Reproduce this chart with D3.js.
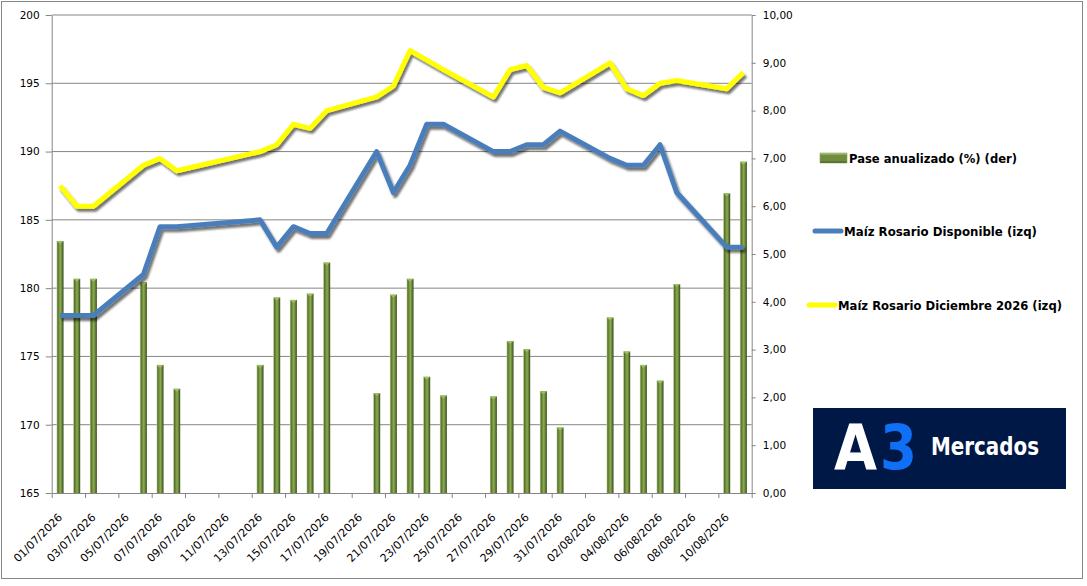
<!DOCTYPE html>
<html lang="es">
<head>
<meta charset="UTF-8">
<title>Maíz Rosario - Pase anualizado</title>
<script src="https://d3js.org/d3.v7.min.js"></script>
<style>
  body { margin: 0; background: #fff; }
  text { font-family: "DejaVu Sans", sans-serif; fill: #000; }
</style>
</head>
<body>
<svg id="chart" width="1087" height="586"></svg>
<script>
// ruedas con dato (sin 09 y 10/07)
const fechas = [
  "01/07/2026","02/07/2026","03/07/2026","06/07/2026","07/07/2026","08/07/2026",
  "13/07/2026","14/07/2026","15/07/2026","16/07/2026","17/07/2026",
  "20/07/2026","21/07/2026","22/07/2026","23/07/2026","24/07/2026",
  "27/07/2026","28/07/2026","29/07/2026","30/07/2026","31/07/2026",
  "03/08/2026","04/08/2026","05/08/2026","06/08/2026","07/08/2026",
  "10/08/2026","11/08/2026"
];
const disponible = [
  178, 178, 178, 181, 184.5, 184.5,
  185, 183, 184.5, 184, 184,
  190, 187, 189, 192, 192,
  190, 190, 190.5, 190.5, 191.5,
  189.5, 189, 189, 190.5, 187,
  183, 183
];
const diciembre = [
  187.5, 186, 186, 189, 189.5, 188.6,
  190, 190.5, 192, 191.7, 193,
  194, 194.8, 197.4, 196.7, 196,
  194, 196, 196.3, 194.7, 194.3,
  196.5, 194.6, 194.1, 195, 195.2,
  194.6, 195.8
];
const pase = [
  5.27, 4.48, 4.48, 4.41, 2.68, 2.18,
  2.68, 4.09, 4.04, 4.17, 4.82,
  2.09, 4.15, 4.48, 2.43, 2.04,
  2.02, 3.18, 3.01, 2.13, 1.37,
  3.67, 2.96, 2.68, 2.35, 4.37,
  6.27, 6.93
];
const ticksIzq = [165, 170, 175, 180, 185, 190, 195, 200];
const ticksDer = [0, 1, 2, 3, 4, 5, 6, 7, 8, 9, 10];
const series = ["Pase anualizado (%) (der)", "Maíz Rosario Disponible (izq)", "Maíz Rosario Diciembre 2026 (izq)"];

const svg = d3.select("#chart");
const mLeft = 51.7, mRight = 751.7, mTop = 15, mBottom = 493;

const parse = d3.timeParse("%d/%m/%Y");
const fmt = d3.timeFormat("%d/%m/%Y");
const primero = parse(fechas[0]), ultimo = parse(fechas[fechas.length - 1]);
const dias = d3.timeDay.range(primero, d3.timeDay.offset(ultimo, 1)).map(fmt);

const x = d3.scaleBand().domain(dias).range([mLeft, mRight]);
const xi = d3.scaleLinear().domain([0, dias.length]).range([mLeft, mRight]);
const yL = d3.scaleLinear().domain([165, 200]).range([mBottom, mTop]);
const yR = d3.scaleLinear().domain([0, 10]).range([mBottom, mTop]);
const es = d3.formatLocale({decimal: ",", thousands: ".", grouping: [3], currency: ["$", ""]});
const grey = "#868686";

const defs = svg.append("defs");
const gBar = defs.append("linearGradient").attr("id", "barra").attr("x1", 0).attr("x2", 1).attr("y1", 0).attr("y2", 0);
[["0%", "#c9d9a6"], ["18%", "#56722b"], ["55%", "#8dac54"], ["82%", "#5b772f"], ["100%", "#33481a"]]
  .forEach(s => gBar.append("stop").attr("offset", s[0]).attr("stop-color", s[1]));
const gLeg = defs.append("linearGradient").attr("id", "barraLeg").attr("x1", 0).attr("x2", 0).attr("y1", 0).attr("y2", 1);
[["0%", "#b9cf8c"], ["25%", "#6f8d3c"], ["75%", "#6f8d3c"], ["100%", "#3d5420"]]
  .forEach(s => gLeg.append("stop").attr("offset", s[0]).attr("stop-color", s[1]));
defs.append("filter").attr("id", "sombra").attr("x", "-5%").attr("y", "-20%").attr("width", "110%").attr("height", "140%")
  .append("feDropShadow").attr("dx", 2).attr("dy", 3).attr("stdDeviation", 1.3)
  .attr("flood-color", "#000").attr("flood-opacity", 0.55);

// borde del área del gráfico
svg.append("rect").attr("x", 1.5).attr("y", 1.5).attr("width", 1081).attr("height", 577)
  .attr("fill", "#fff").attr("stroke", grey);

// grilla horizontal
svg.append("g").selectAll("line").data(ticksIzq.slice(1)).join("line")
  .attr("x1", mLeft).attr("x2", mRight).attr("y1", d => yL(d)).attr("y2", d => yL(d))
  .attr("stroke", grey).attr("stroke-width", 1);

// eje izquierdo
const axL = svg.append("g").attr("transform", `translate(${mLeft},0)`)
  .call(d3.axisLeft(yL).tickValues(ticksIzq).tickSize(6).tickPadding(6).tickSizeOuter(0));
axL.select(".domain").attr("stroke", grey);
axL.selectAll(".tick line").attr("stroke", grey);
axL.selectAll("text").attr("font-size", 10.5).attr("font-family", "DejaVu Sans");

// eje derecho
const axR = svg.append("g").attr("transform", `translate(${mRight},0)`)
  .call(d3.axisRight(yR).tickValues(ticksDer).tickSize(4).tickPadding(7).tickSizeOuter(0).tickFormat(es.format(".2f")));
axR.select(".domain").attr("stroke", grey);
axR.selectAll(".tick line").attr("stroke", grey);
axR.selectAll("text").attr("font-size", 10.5).attr("font-family", "DejaVu Sans");

// eje x: marcas cada 2 días en los bordes, etiquetas centradas
const axXt = svg.append("g").attr("transform", `translate(0,${mBottom})`)
  .call(d3.axisBottom(xi).tickValues(d3.range(0, dias.length + 1, 2)).tickSize(5).tickFormat("").tickSizeOuter(0));
axXt.select(".domain").attr("stroke", grey);
axXt.selectAll(".tick line").attr("stroke", grey);

const axX = svg.append("g").attr("transform", `translate(0,${mBottom})`)
  .call(d3.axisBottom(x).tickValues(dias.filter((d, i) => i % 2 === 0)).tickSize(0));
axX.select(".domain").remove();
axX.selectAll("text")
  .attr("font-size", 11).attr("font-family", "DejaVu Sans")
  .attr("x", 0).attr("y", 0).attr("dy", 0)
  .attr("text-anchor", "end")
  .attr("transform", "translate(3,25) rotate(-45)");

// barras
const bw = x.bandwidth() * 0.42;
svg.append("g").selectAll("rect").data(fechas).join("rect")
  .attr("x", d => x(d) + x.bandwidth() / 2 - bw / 2)
  .attr("y", (d, i) => yR(pase[i]))
  .attr("width", bw)
  .attr("height", (d, i) => mBottom - yR(pase[i]))
  .attr("fill", "url(#barra)");
svg.append("g").selectAll("path").data(fechas).join("path")
  .attr("d", (d, i) => {
    const cx = x(d) + x.bandwidth() / 2, yt = yR(pase[i]);
    return `M${cx - bw / 2},${yt} L${cx + bw / 2},${yt} L${cx},${yt + 3} Z`;
  })
  .attr("fill", "#9dbd5e");

// líneas
const linea = vals => d3.line()
  .x(d => x(d) + x.bandwidth() / 2)
  .y((d, i) => yL(vals[i]))(fechas);
svg.append("path").attr("d", linea(disponible)).attr("fill", "none")
  .attr("stroke", "#4a7ebb").attr("stroke-width", 5).attr("stroke-linejoin", "round")
  .attr("filter", "url(#sombra)");
svg.append("path").attr("d", linea(diciembre)).attr("fill", "none")
  .attr("stroke", "#ffff00").attr("stroke-width", 5).attr("stroke-linejoin", "round")
  .attr("filter", "url(#sombra)");

// leyenda
const leg = svg.append("g").attr("font-weight", "bold");
leg.append("rect").attr("x", 820).attr("y", 153).attr("width", 27).attr("height", 10)
  .attr("fill", "url(#barraLeg)").attr("stroke", "#8aa35a").attr("stroke-width", 0.6);
leg.append("line").attr("x1", 815).attr("x2", 841).attr("y1", 231).attr("y2", 231)
  .attr("stroke", "#4a7ebb").attr("stroke-width", 5).attr("stroke-linecap", "round");
leg.append("line").attr("x1", 809).attr("x2", 835).attr("y1", 305).attr("y2", 305)
  .attr("stroke", "#ffff00").attr("stroke-width", 5).attr("stroke-linecap", "round");
const legPos = [[849, 158, 168], [844, 231, 193], [838, 305, 224]];
leg.selectAll("text").data(series).join("text")
  .attr("x", (d, i) => legPos[i][0]).attr("y", (d, i) => legPos[i][1])
  .attr("dy", "0.36em")
  .attr("font-family", "Liberation Sans").attr("font-size", 12.5)
  .attr("textLength", (d, i) => legPos[i][2]).attr("lengthAdjust", "spacingAndGlyphs")
  .text(d => d);

// logo
const logo = svg.append("g");
logo.append("rect").attr("x", 813).attr("y", 408).attr("width", 253).attr("height", 81).attr("fill", "#001845");
logo.append("text").attr("x", 834).attr("y", 469).attr("font-family", "Inter").attr("font-weight", 700)
  .attr("font-size", 62).attr("textLength", 43).attr("lengthAdjust", "spacingAndGlyphs")
  .style("fill", "#fff").text("A");
logo.append("text").attr("x", 880).attr("y", 469).attr("font-family", "Inter").attr("font-weight", 700)
  .attr("font-size", 62).attr("textLength", 37).attr("lengthAdjust", "spacingAndGlyphs")
  .style("fill", "#0f6ff5").text("3");
logo.append("text").attr("x", 931).attr("y", 455).attr("font-family", "Inter").attr("font-weight", 700)
  .attr("font-size", 24).attr("textLength", 108).attr("lengthAdjust", "spacingAndGlyphs")
  .style("fill", "#fff").text("Mercados");
</script>
</body>
</html>
